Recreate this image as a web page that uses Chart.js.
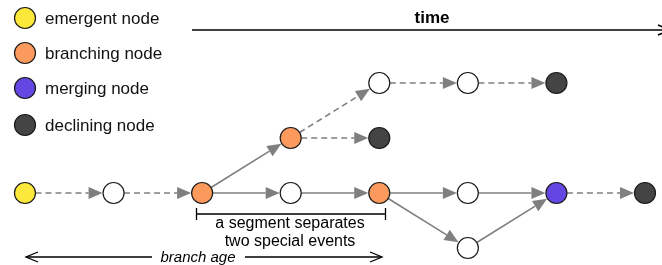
<!DOCTYPE html>
<html>
<head>
<meta charset="utf-8">
<script src="https://cdn.jsdelivr.net/npm/chart.js@4"></script>
<style>
    html, body { margin: 0; padding: 0; background: #fff; }
    #wrap { width: 662px; height: 265px; }
</style>
</head>
<body>
<div id="wrap"><canvas id="chartCanvas" width="662" height="265"></canvas></div>
<script>
    // legend entries
    const nodeTypes = ["emergent node", "branching node", "merging node", "declining node"];
    const typeColors = ["#fbe83b", "#fc9a5e", "#6446e2", "#444444"];

    // nodes: time step, lane, kind (-1 = ordinary node)
    const nodeStep = [0, 1, 2, 3, 4, 5, 6, 7, 5, 3, 4, 4, 5, 6];
    const nodeLane = [1, 1, 1, 1, 1, 1, 1, 1, 0, 2, 2, 3, 3, 3];
    const nodeKind = [0, -1, 1, -1, 1, -1, 2, 3, -1, 1, 3, -1, -1, 3];

    // edges between nodes (index into the node arrays)
    const edgeFrom   = [0, 1, 2, 3, 4, 5, 6, 2, 4, 8, 9, 9, 11, 12];
    const edgeTo     = [1, 2, 3, 4, 5, 6, 7, 9, 8, 6, 11, 10, 12, 13];
    const edgeDashed = [1, 1, 0, 0, 0, 0, 1, 0, 0, 0, 1, 1, 1, 1];

    const FONT = "'Liberation Sans', Arial, Helvetica, sans-serif";
    const R = 10.5;

    function arrowHead(ctx, x, y, ux, uy, len, half) {
        ctx.beginPath();
        ctx.moveTo(x, y);
        ctx.lineTo(x - ux * len - uy * half, y - uy * len + ux * half);
        ctx.lineTo(x - ux * len + uy * half, y - uy * len - ux * half);
        ctx.closePath();
        ctx.fill();
    }

    function openArrow(ctx, x, y, dir) {
        ctx.beginPath();
        ctx.moveTo(x - dir * 12, y - 5);
        ctx.lineTo(x, y);
        ctx.lineTo(x - dir * 12, y + 5);
        ctx.stroke();
    }

    const edgePlugin = {
        id: "edgePlugin",
        beforeDatasetsDraw: function (chart) {
            const ctx = chart.ctx;
            const xs = chart.scales.x, ys = chart.scales.y;
            ctx.save();
            ctx.strokeStyle = "#7f7f7f";
            ctx.fillStyle = "#7f7f7f";
            ctx.lineWidth = 1.6;
            for (let i = 0; i < edgeFrom.length; i++) {
                const a = edgeFrom[i], b = edgeTo[i];
                const x1 = xs.getPixelForValue(nodeStep[a]), y1 = ys.getPixelForValue(nodeLane[a]);
                const x2 = xs.getPixelForValue(nodeStep[b]), y2 = ys.getPixelForValue(nodeLane[b]);
                const d = Math.hypot(x2 - x1, y2 - y1);
                const ux = (x2 - x1) / d, uy = (y2 - y1) / d;
                const tipX = x2 - ux * (R + 0.5), tipY = y2 - uy * (R + 0.5);
                const len = 14;
                ctx.setLineDash(edgeDashed[i] ? [6, 4] : []);
                ctx.beginPath();
                ctx.moveTo(x1 + ux * R, y1 + uy * R);
                ctx.lineTo(tipX - ux * len, tipY - uy * len);
                ctx.stroke();
                ctx.setLineDash([]);
                arrowHead(ctx, tipX, tipY, ux, uy, len, 6);
            }
            ctx.restore();
        },
        afterDraw: function (chart) {
            const ctx = chart.ctx;
            ctx.save();
            ctx.setLineDash([]);

            // legend
            ctx.font = "17px " + FONT;
            ctx.textBaseline = "middle";
            ctx.textAlign = "left";
            const legY = [18, 53, 88, 125];
            nodeTypes.forEach(function (t, i) {
                ctx.beginPath();
                ctx.arc(25, legY[i], R, 0, Math.PI * 2);
                ctx.fillStyle = typeColors[i];
                ctx.fill();
                ctx.lineWidth = 1.2;
                ctx.strokeStyle = "#1a1a1a";
                ctx.stroke();
                ctx.fillStyle = "#111";
                ctx.fillText(t, 45, legY[i] + 1);
            });

            // time axis
            ctx.fillStyle = "#000";
            ctx.strokeStyle = "#000";
            ctx.font = "bold 17px " + FONT;
            ctx.textAlign = "center";
            ctx.fillText("time", 432, 18);
            ctx.lineWidth = 1.5;
            ctx.beginPath();
            ctx.moveTo(192, 30);
            ctx.lineTo(662, 30);
            ctx.stroke();
            openArrow(ctx, 670, 30, 1);

            // segment bracket
            ctx.lineWidth = 1.3;
            ctx.beginPath();
            ctx.moveTo(196, 214);
            ctx.lineTo(386, 214);
            ctx.moveTo(196.5, 208);
            ctx.lineTo(196.5, 220);
            ctx.moveTo(385.5, 208);
            ctx.lineTo(385.5, 220);
            ctx.stroke();
            ctx.font = "16px " + FONT;
            ctx.fillText("a segment separates", 290, 224);
            ctx.fillText("two special events", 290, 242);

            // branch age
            ctx.font = "italic 15px " + FONT;
            ctx.fillText("branch age", 198, 258);
            ctx.lineWidth = 1.3;
            ctx.beginPath();
            ctx.moveTo(26, 257);
            ctx.lineTo(152, 257);
            ctx.moveTo(245, 257);
            ctx.lineTo(381, 257);
            ctx.stroke();
            openArrow(ctx, 26, 257, -1);
            openArrow(ctx, 382, 257, 1);
            ctx.restore();
        }
    };

    const ctx = document.getElementById("chartCanvas").getContext("2d");
    new Chart(ctx, {
        type: "scatter",
        data: {
            datasets: [{
                label: "nodes",
                data: nodeStep.map(function (s, i) { return { x: s, y: nodeLane[i] }; }),
                pointRadius: R,
                pointHoverRadius: R,
                pointBorderWidth: 1.2,
                pointBorderColor: "#1a1a1a",
                pointBackgroundColor: nodeKind.map(function (k) { return k < 0 ? "#ffffff" : typeColors[k]; })
            }]
        },
        options: {
            responsive: false,
            animation: false,
            layout: { padding: 0, autoPadding: false },
            plugins: { legend: { display: false }, tooltip: { enabled: false } },
            scales: {
                x: { type: "linear", display: false, min: -0.282, max: 7.192 },
                y: { type: "linear", display: false, min: -0.309, max: 4.509 }
            }
        },
        plugins: [edgePlugin]
    });
</script>
</body>
</html>
